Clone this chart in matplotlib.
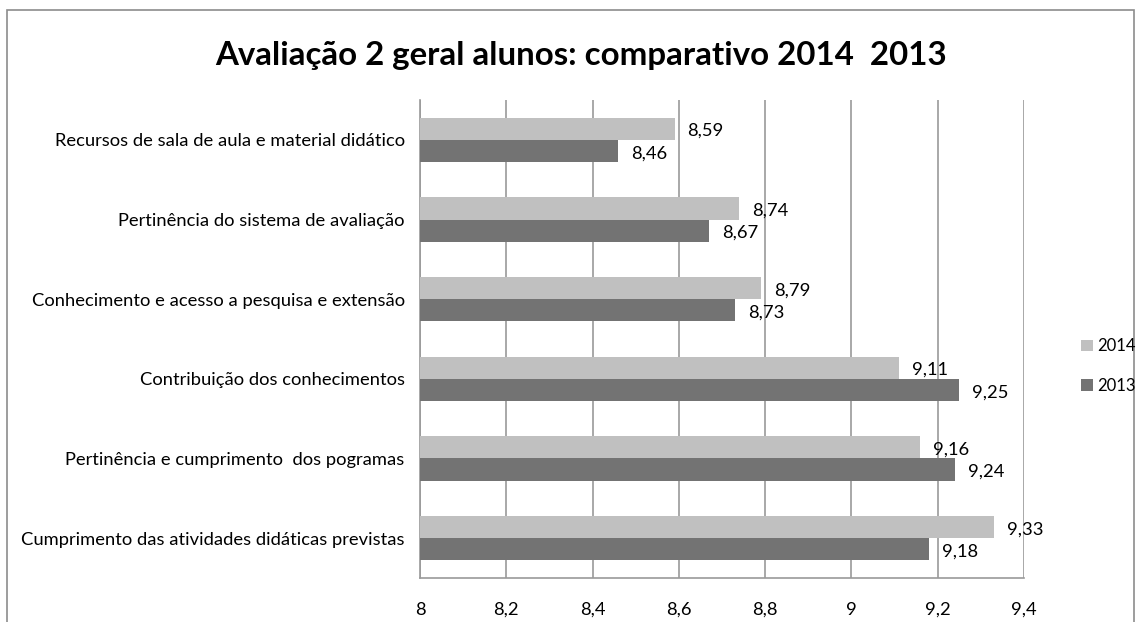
import numpy as np
import matplotlib.pyplot as plt
from matplotlib.patches import Rectangle
from matplotlib.ticker import FuncFormatter

plt.rcParams['font.family'] = ['Lato', 'DejaVu Sans']

# data, top to bottom as shown
categories = [
    "Recursos de sala de aula e material didático",
    "Pertinência do sistema de avaliação",
    "Conhecimento e acesso a pesquisa e extensão",
    "Contribuição dos conhecimentos",
    "Pertinência e cumprimento  dos pogramas",
    "Cumprimento das atividades didáticas previstas",
]
vals_2014 = [8.59, 8.74, 8.79, 9.11, 9.16, 9.33]
vals_2013 = [8.46, 8.67, 8.73, 9.25, 9.24, 9.18]
xticks = [8, 8.2, 8.4, 8.6, 8.8, 9, 9.2, 9.4]

c14 = "#c0c0c0"
c13 = "#737373"
grid_c = "#9a9a9a"
fs = 13.2

fig = plt.figure(figsize=(11.42, 6.22), dpi=100)
ax = fig.add_axes([420 / 1142, 44 / 622, 604 / 1142, 478 / 622])

y = np.arange(len(categories))
h = 0.28
b14 = ax.barh(y - h / 2, [v - 8 for v in vals_2014], left=8, height=h, color=c14, label="2014", zorder=3)
b13 = ax.barh(y + h / 2, [v - 8 for v in vals_2013], left=8, height=h, color=c13, label="2013", zorder=3)

for yy, v in zip(y, vals_2014):
    ax.text(v + 0.03, yy - h / 2 + 0.03, f"{v:.2f}".replace(".", ","), va="center", ha="left", fontsize=fs)
for yy, v in zip(y, vals_2013):
    ax.text(v + 0.03, yy + h / 2 + 0.03, f"{v:.2f}".replace(".", ","), va="center", ha="left", fontsize=fs)

ax.set_xlim(8, 9.4)
ax.set_ylim(len(categories) - 0.5, -0.5)
ax.set_xticks(xticks)
ax.xaxis.set_major_formatter(FuncFormatter(lambda v, p: f"{v:g}".replace(".", ",")))
ax.set_yticks(y)
ax.set_yticklabels(categories)
ax.tick_params(axis="x", length=0, pad=17, labelsize=fs)
ax.tick_params(axis="y", length=0, pad=11, labelsize=fs)
ax.grid(axis="x", color=grid_c, linewidth=1.2, zorder=0)
for s in ["top", "right"]:
    ax.spines[s].set_visible(False)
for s in ["left", "bottom"]:
    ax.spines[s].set_color(grid_c)
    ax.spines[s].set_linewidth(1.2)

fig.text(581 / 1142, 1 - 55 / 622, "Avaliação 2 geral alunos: comparativo 2014  2013",
         ha="center", va="center", fontsize=23.8, fontweight="bold")

leg = fig.legend(handles=[b14, b13], loc="center left", bbox_to_anchor=(1066 / 1142, 1 - 366 / 622),
                 frameon=False, fontsize=12, handlelength=0.7, handleheight=0.7,
                 handletextpad=0.3, labelspacing=1.4)

# outer chart border
fig.patches.append(Rectangle((7 / 1142, -0.05), 1127 / 1142, 1.05 - 10 / 622, transform=fig.transFigure,
                             fill=False, edgecolor="#8c8c8c", linewidth=1.2))

fig.savefig("out.png", dpi=100)
